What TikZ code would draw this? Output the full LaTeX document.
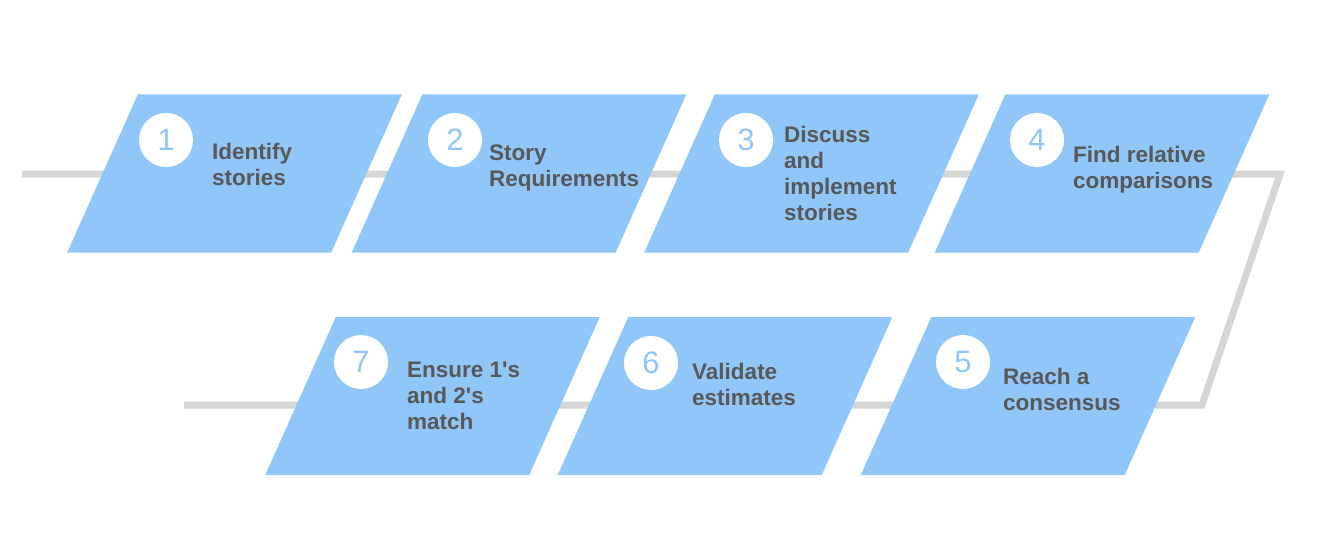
\documentclass[tikz,border=0pt]{standalone}
\usepackage{fontspec}
\setmainfont{Liberation Sans}
\usepackage{xcolor}
\definecolor{cardblue}{RGB}{144,198,248}
\definecolor{railgray}{RGB}{214,214,214}
\definecolor{labelgray}{RGB}{88,88,88}
\usepackage{tikz}
\usetikzlibrary{backgrounds}

\tikzset{
  card/.style={fill=cardblue,minimum width=264pt,minimum height=158pt,inner sep=0pt,xslant=0.4465},
  numdisc/.style={circle,fill=white,minimum size=54pt,inner sep=0pt,text=cardblue,
                  font=\fontsize{31}{31}\selectfont},
  steptext/.style={anchor=base west,align=left,inner sep=0pt,text=labelgray,
                   font=\fontsize{22.5}{26}\selectfont\bfseries},
  rail/.style={draw=railgray,line width=7pt}
}

\begin{document}
\begin{tikzpicture}[x=1pt,y=-1pt]
  \useasboundingbox (0,0) rectangle (1326,551);

  % top row
  \node[card] (card1) at (234.5,173.5) {};
  \node[card] (card2) at (519,173.5) {};
  \node[card] (card3) at (811.5,173.5) {};
  \node[card] (card4) at (1102,173.5) {};
  % bottom row
  \node[card] (card5) at (1028,396) {};
  \node[card] (card6) at (725,396) {};
  \node[card] (card7) at (432.5,396) {};

  \node[numdisc] (num1) at (166,140) {1};
  \node[numdisc] (num2) at (455,140) {2};
  \node[numdisc] (num3) at (746,140) {3};
  \node[numdisc] (num4) at (1037,140) {4};
  \node[numdisc] (num5) at (963,362) {5};
  \node[numdisc] (num6) at (651,363) {6};
  \node[numdisc] (num7) at (361,362) {7};

  % texts sit on the baseline of their last line
  \node[steptext] (text1) at (212,185) {Identify\\stories};
  \node[steptext] (text2) at (489,186) {Story\\Requirements};
  \node[steptext] (text3) at (784,220) {Discuss\\and\\implement\\stories};
  \node[steptext] (text4) at (1073,188) {Find relative\\comparisons};
  \node[steptext] (text5) at (1003,410) {Reach a\\consensus};
  \node[steptext] (text6) at (692,405) {Validate\\estimates};
  \node[steptext] (text7) at (407,429) {Ensure 1\textquotesingle s\\and 2\textquotesingle s\\match};

  % the rail behind the cards
  \coordinate (railstart) at (22,174);
  \coordinate (railturn1) at (1280,174);
  \coordinate (railturn2) at (1202,405);
  \coordinate (railend) at (184,405);
  \begin{scope}[on background layer]
    \draw[rail] (railstart) -- (railturn1) -- (railturn2) -- (railend);
  \end{scope}
\end{tikzpicture}
\end{document}
